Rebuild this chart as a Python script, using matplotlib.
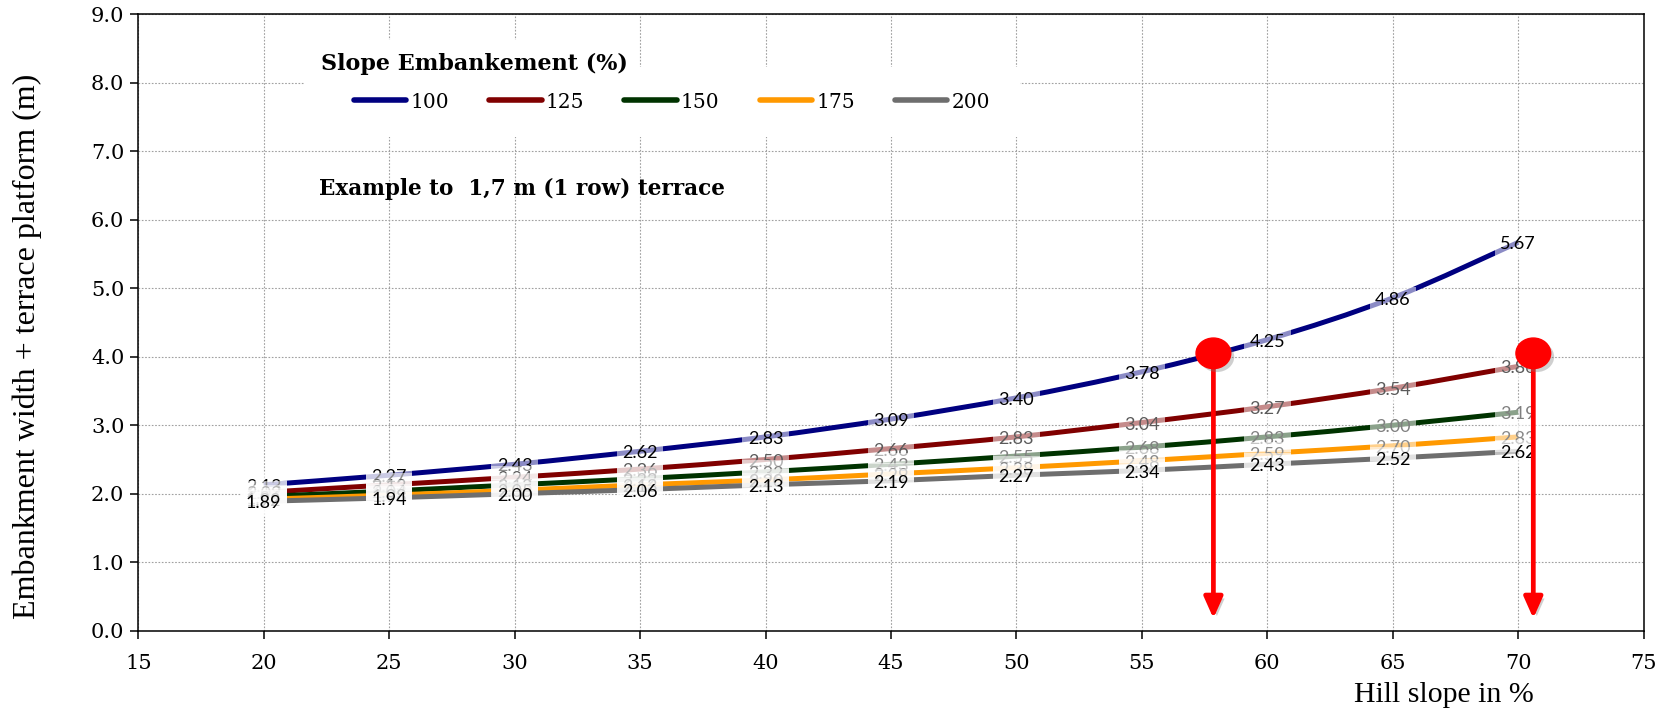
import numpy as np
import matplotlib
matplotlib.use("Agg")
import matplotlib.pyplot as plt
from matplotlib.path import Path
from matplotlib.patches import PathPatch, Rectangle
from matplotlib.lines import Line2D
import matplotlib.patheffects as pe

# ---- data -------------------------------------------------------------
hill_slope = [20, 25, 30, 35, 40, 45, 50, 55, 60, 65, 70]
embankment_slopes = ["100", "125", "150", "175", "200"]
width_100 = [2.13, 2.27, 2.43, 2.62, 2.83, 3.09, 3.40, 3.78, 4.25, 4.86, 5.67]
width_125 = [2.02, 2.13, 2.24, 2.36, 2.50, 2.66, 2.83, 3.04, 3.27, 3.54, 3.86]
width_150 = [1.96, 2.04, 2.13, 2.22, 2.32, 2.43, 2.55, 2.68, 2.83, 3.00, 3.19]
width_175 = [1.92, 1.98, 2.05, 2.13, 2.20, 2.29, 2.38, 2.48, 2.59, 2.70, 2.83]
width_200 = [1.89, 1.94, 2.00, 2.06, 2.13, 2.19, 2.27, 2.34, 2.43, 2.52, 2.62]
series = [width_100, width_125, width_150, width_175, width_200]

marker_x = [57.85, 70.6]
marker_y = [4.05, 4.05]
arrow_tip_y = 0.18

x_ticks = [15, 20, 25, 30, 35, 40, 45, 50, 55, 60, 65, 70, 75]
y_ticks = [0, 1, 2, 3, 4, 5, 6, 7, 8, 9]

# ---- style ------------------------------------------------------------
line_colors = ["#000080", "#800000", "#003300", "#FF9900", "#6E6E6E"]
label_colors = ["#000000", "#5a5a5a", "#808080", "#8a8a8a", "#000000"]
SERIF = ["DejaVu Serif"]
TIMES = ["Liberation Serif"]

W, H = 1668, 708
fig = plt.figure(figsize=(W / 100, H / 100), dpi=100)


def fx(px):
    return px / W


def fy(py):
    return 1 - py / H


ax = fig.add_axes([fx(138.3), fy(630.7), fx(1643.7 - 138.3), (630.7 - 14.3) / H])
ax.set_xlim(15, 75)
ax.set_ylim(0, 9)
ax.set_xticks(x_ticks)
ax.set_yticks(y_ticks)
ax.set_yticklabels([f"{v:.1f}" for v in y_ticks])
ax.tick_params(axis="both", direction="out", length=6, width=1.1,
               labelsize=15, color="black")
ax.tick_params(axis="x", pad=11)
ax.tick_params(axis="y", pad=4)
for lab in ax.get_xticklabels() + ax.get_yticklabels():
    lab.set_family(SERIF)
for sp in ax.spines.values():
    sp.set_color("black")
    sp.set_linewidth(1.1)
ax.grid(True, color="#a0a0a0", linestyle=(0, (1.5, 1.5)), linewidth=0.8)
ax.set_axisbelow(True)


def smooth_path(xs, ys):
    """Cubic Bezier path through the points (spreadsheet-style smoothing)."""
    p = np.column_stack([xs, ys]).astype(float)
    n = len(p)
    verts = [p[0]]
    codes = [Path.MOVETO]
    for i in range(n - 1):
        p0 = p[i - 1] if i > 0 else p[i]
        p3 = p[i + 2] if i + 2 < n else p[i + 1]
        c1 = p[i] + (p[i + 1] - p0) / 6.0
        c2 = p[i + 1] - (p3 - p[i]) / 6.0
        verts += [c1, c2, p[i + 1]]
        codes += [Path.CURVE4] * 3
    return Path(verts, codes)


for k, (ys, col) in enumerate(zip(series, line_colors)):
    ax.add_patch(PathPatch(smooth_path(hill_slope, ys), fill=False,
                           edgecolor=col, linewidth=3.6, capstyle="butt",
                           zorder=3))

# data labels on top of all lines, later series covering earlier ones
for k, (ys, tcol) in enumerate(zip(series, label_colors)):
    for x, y in zip(hill_slope, ys):
        ax.annotate(f"{y:.2f}", xy=(x, y), xytext=(0, -1.5),
                    textcoords="offset points", ha="center", va="center",
                    fontsize=13, family=["Lato", "DejaVu Sans"], color=tcol,
                    zorder=4 + 0.1 * k,
                    bbox=dict(boxstyle="square,pad=0.3", fc="white",
                              ec="none", alpha=0.55))

# red markers with downward arrows
shadow = [pe.SimplePatchShadow(offset=(2.5, -2.5), shadow_rgbFace="#777777",
                               alpha=0.35), pe.Normal()]
for mx, my in zip(marker_x, marker_y):
    ax.annotate("", xy=(mx, arrow_tip_y), xytext=(mx, my),
                arrowprops=dict(arrowstyle="-|>,head_width=0.4,head_length=0.9",
                                mutation_scale=14, lw=3.4, color="#FF0000",
                                shrinkA=0, shrinkB=0,
                                path_effects=shadow),
                zorder=7)
circ = Path.unit_circle()
ellipse = Path(circ.vertices * np.array([1.0, 0.88]), circ.codes)
ax.plot(marker_x, marker_y, ls="none", marker=ellipse, ms=25,
        color="#FF0000", mec="#FF0000", zorder=8, path_effects=shadow)

# white panels behind legend title and entries
for (x0, y0, x1, y1) in [(304, 40, 636, 84), (304, 67, 1020, 137)]:
    fig.patches.append(Rectangle((fx(x0), fy(y1)), fx(x1 - x0), (y1 - y0) / H,
                                 transform=fig.transFigure, facecolor="white",
                                 edgecolor="none", zorder=1.5))

fig.text(fx(321), fy(64), "Slope Embankement (%)", ha="left", va="center",
         fontsize=16, fontweight="bold", family=SERIF, zorder=3)

handles = [Line2D([], [], color=c, lw=4, solid_capstyle="round")
           for c in line_colors]
leg = fig.legend(handles, embankment_slopes, loc="center",
                 bbox_to_anchor=(fx(672), fy(102)), ncol=5, frameon=False,
                 handlelength=2.6, handletextpad=0.2, columnspacing=2.0,
                 prop={"family": SERIF, "size": 14.5})
leg.set_zorder(3)

fig.text(fx(319), fy(189), "Example to  1,7 m (1 row) terrace", ha="left",
         va="center", fontsize=15.5, fontweight="bold", family=SERIF)

fig.text(fx(27), fy(346), "Embankment width + terrace platform (m)",
         rotation=90, ha="center", va="center", fontsize=23, family=TIMES)
fig.text(fx(1444), fy(695), "Hill slope in %", ha="center", va="center",
         fontsize=21.5, family=TIMES)

fig.savefig("out.png", dpi=100)
